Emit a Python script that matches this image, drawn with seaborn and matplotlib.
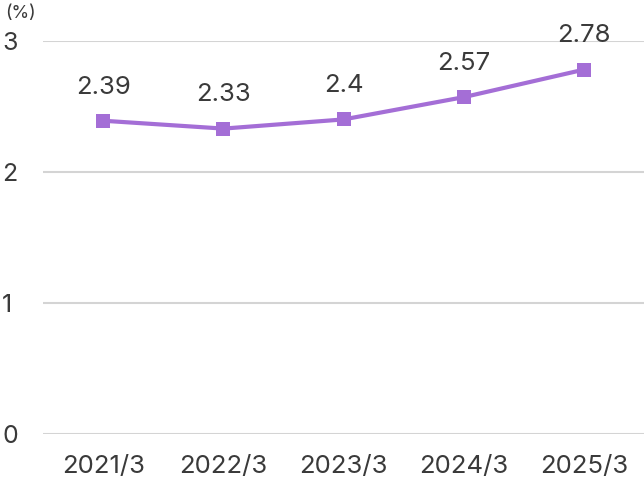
import matplotlib
matplotlib.use('Agg')
import matplotlib.pyplot as plt
import seaborn as sns
import pandas as pd

years = ['2021/3', '2022/3', '2023/3', '2024/3', '2025/3']
rates = [2.39, 2.33, 2.4, 2.57, 2.78]
labels = ['2.39', '2.33', '2.4', '2.57', '2.78']

sns.set_theme(style='white')
plt.rcParams['font.family'] = ['Inter', 'DejaVu Sans']

df = pd.DataFrame({'year': years, 'rate': rates})
color = '#a46ed6'
text_color = '#3a3a3a'

fig = plt.figure(figsize=(6.44, 4.8), dpi=100)
ax = fig.add_axes([0.067, 0.096, 0.933, 0.819])

for y in [0, 1, 2, 3]:
    ax.axhline(y, color='#d4d4d4', lw=1.5, zorder=0)

sns.lineplot(data=df, x='year', y='rate', ax=ax, color=color, lw=3,
             marker='s', markersize=10.5, markeredgewidth=0, sort=False)

for i, (v, t) in enumerate(zip(rates, labels)):
    ax.annotate(t, (i, v), xytext=(0, 16), textcoords='offset points',
                ha='center', va='bottom', fontsize=18.5, color=text_color)

ax.set_xlim(-0.5, 4.5)
ax.set_ylim(0, 3)
ax.set_yticks([0, 1, 2, 3])
ax.set_xlabel('')
ax.set_ylabel('')
for s in ax.spines.values():
    s.set_visible(False)
ax.tick_params(axis='y', length=0, labelsize=18, labelcolor=text_color)
ax.tick_params(axis='x', length=0, pad=15, labelsize=18.5, labelcolor=text_color)
for lab in ax.get_yticklabels():
    lab.set_horizontalalignment('left')
ax.yaxis.set_tick_params(pad=29.5)
fig.text(0.008, 0.99, '(%)', fontsize=13, color=text_color, va='top', ha='left')

fig.savefig('out.png', dpi=100)
